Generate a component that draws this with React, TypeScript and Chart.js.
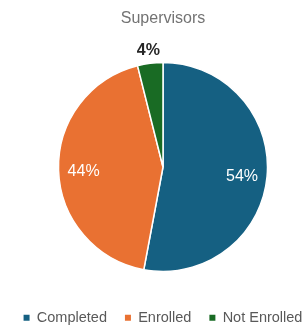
import { useEffect, useRef } from "react";
import { Chart, registerables } from "chart.js";

Chart.register(...registerables);

const chartTitle = "Supervisors";
const categories = ["Completed", "Enrolled", "Not Enrolled"];
const percentValues = [54, 44, 4];
const sliceColors = ["#156082", "#E97132", "#196B24"];

const FONT = "'Liberation Sans', Arial, sans-serif";

const sliceLabelPlugin = {
  id: "sliceLabels",
  afterDatasetsDraw(chart: any) {
    const ctx = chart.ctx;
    const meta = chart.getDatasetMeta(0);
    const data = chart.data.datasets[0].data as number[];
    meta.data.forEach((arc: any, i: number) => {
      const { x, y, startAngle, endAngle, outerRadius } = arc.getProps(
        ["x", "y", "startAngle", "endAngle", "outerRadius"],
        true
      );
      const mid = (startAngle + endAngle) / 2;
      const span = endAngle - startAngle;
      const outside = span < 0.5;
      const d = outside ? outerRadius + 15 : outerRadius * 0.76;
      ctx.save();
      ctx.font = (outside ? "bold " : "") + "16px " + FONT;
      ctx.fillStyle = outside ? "#262626" : "#ffffff";
      ctx.textAlign = "center";
      ctx.textBaseline = "middle";
      ctx.fillText(`${data[i]}%`, x + Math.cos(mid) * d, y + Math.sin(mid) * d + 2);
      ctx.restore();
    });
  },
};

export default function App() {
  const ref = useRef<HTMLCanvasElement | null>(null);

  useEffect(() => {
    if (!ref.current) return;
    const chart = new Chart(ref.current, {
      type: "pie",
      data: {
        labels: categories,
        datasets: [
          {
            data: percentValues,
            backgroundColor: sliceColors,
            borderColor: "#ffffff",
            borderWidth: 1.5,
            radius: 104.5,
          } as any,
        ],
      },
      options: {
        responsive: false,
        animation: false,
        devicePixelRatio: 1,
        layout: { padding: 0 },
        plugins: {
          title: {
            display: true,
            text: chartTitle,
            color: "#737373",
            font: { family: FONT, size: 16, weight: "normal" },
            padding: { top: 8.5, bottom: 13.8 },
          },
          legend: {
            display: true,
            position: "bottom",
            labels: {
              color: "#595959",
              font: { family: FONT, size: 14.5 },
              boxWidth: 6,
              boxHeight: 6,
              padding: 18,
              generateLabels: (c: any) => {
                const base = (Chart as any).overrides.pie.plugins.legend.labels.generateLabels(c);
                return base.map((it: any) => ({ ...it, lineWidth: 0, strokeStyle: it.fillStyle }));
              },
            },
          },
          tooltip: { enabled: false },
        },
      },
      plugins: [sliceLabelPlugin],
    });
    return () => chart.destroy();
  }, []);

  return (
    <div
      style={{
        position: "fixed",
        left: 0,
        top: 0,
        width: 308,
        height: 327,
        overflow: "hidden",
        background: "#ffffff",
      }}
    >
      <canvas ref={ref} width={326} height={335} style={{ display: "block" }} />
    </div>
  );
}
